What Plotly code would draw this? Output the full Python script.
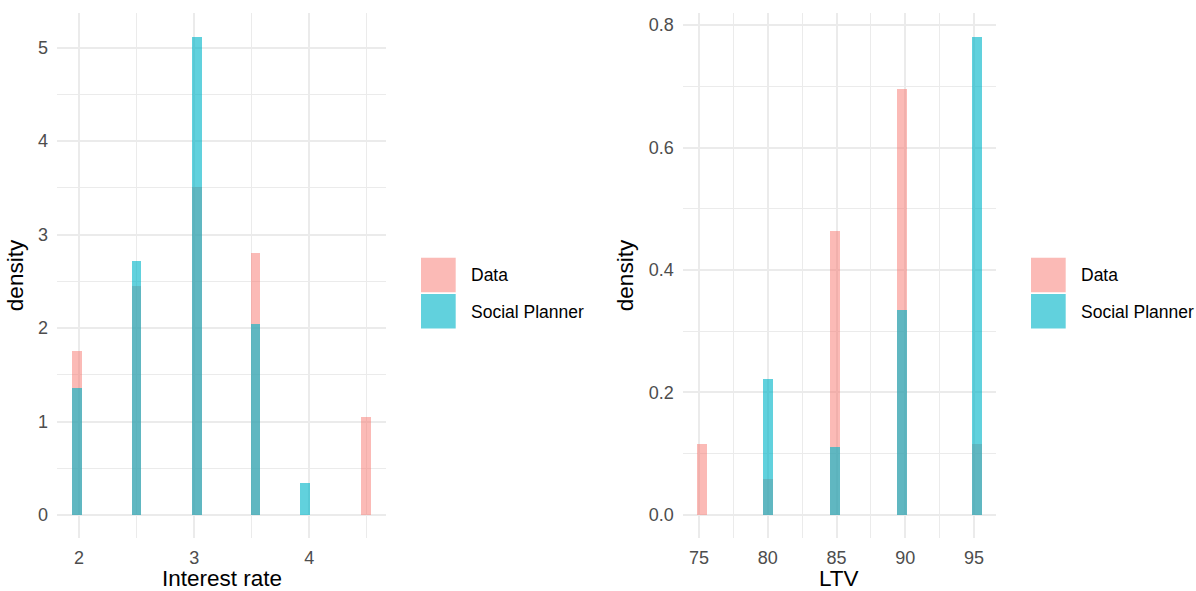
import plotly.graph_objects as go

W, H = 1196, 591

# Interest rate panel (histogram bin centres and densities)
rate_bins = [1.983, 2.5, 3.023, 3.532, 3.965, 4.489]
rate_data = [1.75, 2.45, 3.51, 2.80, 0.0, 1.05]
rate_planner = [1.36, 2.72, 5.11, 2.04, 0.34, 0.0]

# LTV panel (histogram bin centres and densities)
ltv_bins = [75.2, 80.0, 84.85, 89.76, 95.18]
ltv_data = [0.116, 0.058, 0.464, 0.695, 0.116]
ltv_planner = [0.0, 0.222, 0.111, 0.335, 0.780]

series_names = ["Data", "Social Planner"]
fill_colors = ["rgba(248,118,109,0.5)", "rgba(0,180,200,0.62)"]

FONT = "Liberation Sans, Arial, sans-serif"
TICK_SIZE = 18
LEGEND_SIZE = 17.5
TITLE_SIZE = 22.5
GRID = "#EBEBEB"

fig = go.Figure()

for vals, name, col in zip([rate_data, rate_planner], series_names, fill_colors):
    fig.add_trace(go.Bar(x=rate_bins, y=vals, width=0.085, name=name,
                         marker=dict(color=col, line=dict(width=0)),
                         xaxis="x", yaxis="y", showlegend=False))

for vals, name, col in zip([ltv_data, ltv_planner], series_names, fill_colors):
    fig.add_trace(go.Bar(x=ltv_bins, y=vals, width=0.7, name=name,
                         marker=dict(color=col, line=dict(width=0)),
                         xaxis="x2", yaxis="y2", showlegend=False))


def px_x(v):
    return v / W


def px_y(v):
    return 1 - v / H


ydom = [px_y(538), px_y(13)]
left_dom = [px_x(57), px_x(386)]
right_dom = [px_x(682.7), px_x(995.7)]

common = dict(showline=False, zeroline=False, ticks="", gridcolor=GRID, gridwidth=2,
              tickfont=dict(family=FONT, size=TICK_SIZE, color="#4D4D4D"),
              title_font=dict(family=FONT, size=TITLE_SIZE, color="#000000"),
              automargin=False)

fig.update_layout(
    width=W, height=H,
    margin=dict(l=0, r=0, t=0, b=0),
    paper_bgcolor="white", plot_bgcolor="white",
    barmode="overlay", bargap=0,
    showlegend=False,
    xaxis=dict(domain=left_dom, range=[1.81, 4.665],
               tickmode="array", tickvals=[2, 3, 4],
               minor=dict(tickmode="array", tickvals=[2.5, 3.5, 4.5], showgrid=True,
                          gridcolor=GRID, gridwidth=1),
               ticklabelstandoff=7, anchor="y", **common),
    yaxis=dict(domain=ydom, range=[-0.246, 5.37], tick0=0, dtick=1,
               minor=dict(dtick=0.5, showgrid=True, gridcolor=GRID, gridwidth=1),
               title=dict(text="density", standoff=8),
               ticklabelstandoff=8, anchor="x", **common),
    xaxis2=dict(domain=right_dom, range=[73.81, 96.58],
                tick0=75, dtick=5,
                minor=dict(dtick=2.5, showgrid=True, gridcolor=GRID, gridwidth=1),
                ticklabelstandoff=7, anchor="y2", **common),
    yaxis2=dict(domain=ydom, range=[-0.0376, 0.8196], tick0=0, dtick=0.2,
                tickformat=".1f",
                minor=dict(dtick=0.1, showgrid=True, gridcolor=GRID, gridwidth=1),
                title=dict(text="density", standoff=8),
                ticklabelstandoff=8, anchor="x2", **common),
)

annotations = []
shapes = []

# x-axis titles under each panel
for dom, text in [(left_dom, "Interest rate"), (right_dom, "LTV")]:
    annotations.append(dict(xref="paper", yref="paper", x=(dom[0] + dom[1]) / 2,
                            y=0, text=text, showarrow=False,
                            xanchor="center", yanchor="bottom", yshift=-2,
                            font=dict(family=FONT, size=TITLE_SIZE, color="#000000")))

# Fill legends drawn beside each panel
for key_left, text_left in [(421, 469), (1031, 1079)]:
    for i, (name, col) in enumerate(zip(series_names, fill_colors)):
        top = 257.7 + i * 36.3
        shapes.append(dict(type="rect", xref="paper", yref="paper",
                           x0=px_x(key_left), x1=px_x(key_left + 34.7),
                           y0=px_y(top + 34.5), y1=px_y(top),
                           fillcolor=col, line=dict(width=0)))
        annotations.append(dict(xref="paper", yref="paper", x=px_x(text_left),
                                y=px_y(top + 17.7), text=name, showarrow=False,
                                xanchor="left", yanchor="middle",
                                font=dict(family=FONT, size=LEGEND_SIZE, color="#000000")))

fig.update_layout(shapes=shapes, annotations=annotations)

fig.write_html("out.html")
